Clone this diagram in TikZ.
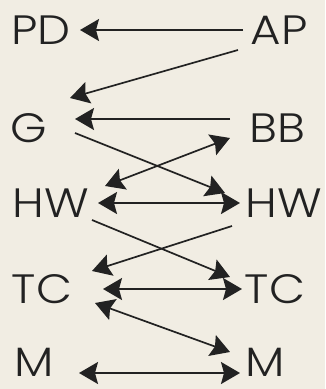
\documentclass[tikz,border=0pt]{standalone}
\usepackage{fontspec}
\setmainfont{Poppins}[UprightFont=* Light, FakeStretch=1.14]
\usepackage{xcolor}
\definecolor{paper}{HTML}{F1EDE3}
\definecolor{ink}{HTML}{222222}
\usepackage{tikz}
\usetikzlibrary{arrows.meta, positioning, calc}

\begin{document}
\begin{tikzpicture}[
        x=1pt, y=-1pt,
        lab/.style={text=ink, inner sep=0, text depth=0pt, font=\fontsize{41}{41}\selectfont},
        dom/.style={-{Stealth[length=19pt, width=22pt, inset=3pt]}, draw=ink, line width=1.7pt},
        both/.style={dom, {Stealth[length=19pt, width=22pt, inset=3pt]}-{Stealth[length=19pt, width=22pt, inset=3pt]}},
    ]
        \fill[paper] (0,0) rectangle (325,389);
        \useasboundingbox (0,0) rectangle (325,389);

        \node[lab] (pd) at (41,30) {PD};
        \node[lab] (ap) at (279,30) {AP};
        \node[lab] (g) at (29,128) {G};
        \node[lab] (bb) at (277,128) {BB};
        \node[lab] (hwl) at (51,203) {HW};
        \node[lab] (hwr) at (284,203) {HW};
        \node[lab] (tcl) at (42,289) {TC};
        \node[lab] (tcr) at (275,289) {TC};
        \node[lab] (ml) at (34,362) {M};
        \node[lab] (mr) at (265,362) {M};

        \draw[dom] ([shift={(-36,0)}]ap.center) to ([shift={(39,0)}]pd.center);
        \draw[dom] ([shift={(-41,20)}]ap.center) to ([shift={(41,-30)}]g.center);
        \draw[dom] ([shift={(-47,-9)}]bb.center) to ([shift={(46,-9)}]g.center);
        \draw[dom] ([shift={(46,5)}]g.center) to ([shift={(-59,-10)}]hwr.center);
        \draw[both] ([shift={(54,-17)}]hwl.center) to ([shift={(-47,10)}]bb.center);
        \draw[both] ([shift={(47,0)}]hwl.center) to ([shift={(-44,0)}]hwr.center);
        \draw[dom] ([shift={(41,17)}]hwl.center) to ([shift={(-45,-12)}]tcr.center);
        \draw[dom] ([shift={(-52,23)}]hwr.center) to ([shift={(50,-18)}]tcl.center);
        \draw[both] ([shift={(61,0)}]tcl.center) to ([shift={(-33,0)}]tcr.center);
        \draw[both] ([shift={(53,14)}]tcl.center) to ([shift={(-35,-10)}]mr.center);
        \draw[both] ([shift={(45,11)}]ml.center) to ([shift={(-25,11)}]mr.center);
    \end{tikzpicture}
\end{document}
